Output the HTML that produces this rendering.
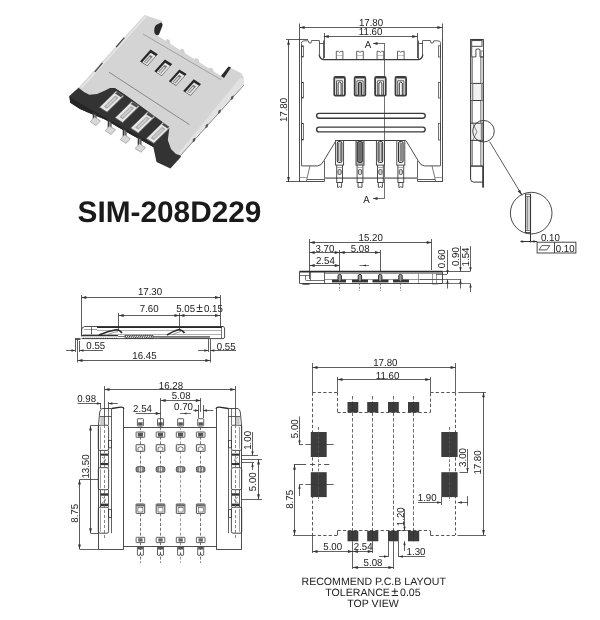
<!DOCTYPE html>
<html><head><meta charset="utf-8"><style>
html,body{margin:0;padding:0;background:#fff;}
svg{display:block;font-family:"Liberation Sans",sans-serif;text-rendering:geometricPrecision;will-change:transform;filter:blur(0.35px);}
</style></head><body>
<svg width="600" height="620" viewBox="0 0 600 620">
<polygon points="69.3,96.0 78.5,87.8 112.0,86.0 172.0,124.0 181.0,156.0 180.4,157.5 170.4,168.6 156.5,162.0 153.3,147.0 123.0,130.0 105.0,119.5 88.0,112.5 80.0,109.0 70.3,102.7" fill="#333" stroke="none" stroke-width="0"/>
<polygon points="69.3,96.0 73.0,99.0 88.0,108.0 153.0,144.0 153.3,147.0 123.0,130.0 105.0,119.5 88.0,112.5 80.0,109.0 70.3,102.7" fill="#262626" stroke="none" stroke-width="0"/>
<polygon points="92.7,112.0 96.5,114.3 96.5,119.8 92.7,118.8" fill="#3a3a3a" stroke="none" stroke-width="0"/>
<polygon points="94.1,114.5 95.5,115.3 95.5,119.3 94.1,118.8" fill="#9a9a9a" stroke="none" stroke-width="0"/>
<polygon points="90.2,121.8 96.1,125.6 100.4,120.8 94.5,117.0" fill="#d8d8d8" stroke="#8a8a8a" stroke-width="0.6"/>
<polygon points="107.7,119.1 111.5,121.4 111.5,128.7 107.7,127.7" fill="#3a3a3a" stroke="none" stroke-width="0"/>
<polygon points="109.1,121.6 110.5,122.4 110.5,128.2 109.1,127.7" fill="#9a9a9a" stroke="none" stroke-width="0"/>
<polygon points="105.2,130.7 111.1,134.5 115.4,129.7 109.5,125.9" fill="#d8d8d8" stroke="#8a8a8a" stroke-width="0.6"/>
<polygon points="122.7,127.8 126.5,130.1 126.5,137.6 122.7,136.6" fill="#3a3a3a" stroke="none" stroke-width="0"/>
<polygon points="124.1,130.3 125.5,131.1 125.5,137.1 124.1,136.6" fill="#9a9a9a" stroke="none" stroke-width="0"/>
<polygon points="120.2,139.6 126.1,143.4 130.4,138.6 124.5,134.8" fill="#d8d8d8" stroke="#8a8a8a" stroke-width="0.6"/>
<polygon points="137.7,136.2 141.5,138.5 141.5,146.5 137.7,145.5" fill="#3a3a3a" stroke="none" stroke-width="0"/>
<polygon points="139.1,138.7 140.5,139.5 140.5,146.0 139.1,145.5" fill="#9a9a9a" stroke="none" stroke-width="0"/>
<polygon points="135.2,148.5 141.1,152.3 145.4,147.5 139.5,143.7" fill="#d8d8d8" stroke="#8a8a8a" stroke-width="0.6"/>
<polygon points="99.5,107.3 107.1,112.1 123.7,95.9 116.1,91.1" fill="#e6e6e6" stroke="#6a6a6a" stroke-width="0.7"/>
<polygon points="103.8,106.7 107.1,108.8 118.6,97.7 115.3,95.6" fill="#a8a8a8" stroke="none" stroke-width="0"/>
<polygon points="105.8,106.2 107.3,107.2 116.6,98.2 115.1,97.2" fill="#cfcfcf" stroke="none" stroke-width="0"/>
<polygon points="115.1,93.6 120.9,97.2 122.7,95.4 117.0,91.8" fill="#4a4a4a" stroke="none" stroke-width="0"/>
<polygon points="115.1,117.7 122.7,122.5 139.3,106.3 131.7,101.5" fill="#e6e6e6" stroke="#6a6a6a" stroke-width="0.7"/>
<polygon points="119.4,117.1 122.7,119.2 134.2,108.1 130.9,106.0" fill="#a8a8a8" stroke="none" stroke-width="0"/>
<polygon points="121.4,116.6 122.9,117.6 132.2,108.6 130.7,107.6" fill="#cfcfcf" stroke="none" stroke-width="0"/>
<polygon points="130.7,104.0 136.5,107.6 138.3,105.8 132.6,102.2" fill="#4a4a4a" stroke="none" stroke-width="0"/>
<polygon points="130.7,128.1 138.3,132.9 154.9,116.7 147.3,111.9" fill="#e6e6e6" stroke="#6a6a6a" stroke-width="0.7"/>
<polygon points="135.0,127.5 138.3,129.6 149.8,118.5 146.5,116.4" fill="#a8a8a8" stroke="none" stroke-width="0"/>
<polygon points="137.0,127.0 138.5,128.0 147.8,119.0 146.3,118.0" fill="#cfcfcf" stroke="none" stroke-width="0"/>
<polygon points="146.3,114.4 152.1,118.0 153.9,116.2 148.2,112.6" fill="#4a4a4a" stroke="none" stroke-width="0"/>
<polygon points="146.3,138.5 153.9,143.3 170.5,127.1 162.9,122.3" fill="#e6e6e6" stroke="#6a6a6a" stroke-width="0.7"/>
<polygon points="150.6,137.9 153.9,140.0 165.4,128.9 162.1,126.8" fill="#a8a8a8" stroke="none" stroke-width="0"/>
<polygon points="152.6,137.4 154.1,138.4 163.4,129.4 161.9,128.4" fill="#cfcfcf" stroke="none" stroke-width="0"/>
<polygon points="161.9,124.8 167.7,128.4 169.5,126.6 163.8,123.0" fill="#4a4a4a" stroke="none" stroke-width="0"/>
<polygon points="144.6,15.0 162.5,21.0 158.0,36.0 221.0,76.0 229.0,67.0 241.0,73.0 244.0,78.0 244.0,85.0 180.5,155.5 176.0,154.0 171.0,149.0 167.8,140.0 169.5,127.0 116.0,88.0 110.0,88.0 104.0,91.0 97.0,94.0 89.3,94.7 84.0,92.0 78.5,87.8" fill="#d4d4d4" stroke="none" stroke-width="0"/>
<polygon points="240.0,78.0 244.0,78.0 244.0,85.0 180.5,155.5 178.5,153.0" fill="#e2e2e2" stroke="none" stroke-width="0"/>
<line x1="244.00" y1="85.00" x2="180.50" y2="155.50" stroke="#777" stroke-width="0.8"/>
<polygon points="231.1,96.7 233.6,95.2 233.1,98.7 230.6,100.2" fill="#555" stroke="none" stroke-width="0"/>
<polygon points="218.4,110.8 220.9,109.3 220.4,112.8 217.9,114.3" fill="#555" stroke="none" stroke-width="0"/>
<polygon points="205.7,124.9 208.2,123.4 207.7,126.9 205.2,128.4" fill="#555" stroke="none" stroke-width="0"/>
<polygon points="193.0,139.0 195.5,137.5 195.0,141.0 192.5,142.5" fill="#555" stroke="none" stroke-width="0"/>
<polyline points="81.5,87.6 146,16.2" stroke="#e6e6e6" stroke-width="1.6" fill="none"/>
<line x1="94.90" y1="71.80" x2="102.40" y2="62.90" stroke="#444" stroke-width="1.3"/>
<line x1="116.10" y1="47.20" x2="124.30" y2="37.60" stroke="#444" stroke-width="1.3"/>
<path d="M154.5,33 Q153.5,28 156,25 L161,22.5 Q163.5,23.5 162,27 L159,34.5 Q156.5,36.5 154.5,33 Z" fill="#2a2a2a"/>
<polygon points="221.0,76.0 228.5,66.5 231.0,67.5 224.0,78.0" fill="#2a2a2a" stroke="none" stroke-width="0"/>
<polygon points="165.5,43.0 166.5,39.0 169.5,40.0 170.5,44.0" fill="#cfcfcf" stroke="none" stroke-width="0"/>
<polygon points="179.9,52.5 180.9,48.5 183.9,49.5 184.9,53.5" fill="#cfcfcf" stroke="none" stroke-width="0"/>
<polygon points="194.3,62.0 195.3,58.0 198.3,59.0 199.3,63.0" fill="#cfcfcf" stroke="none" stroke-width="0"/>
<polygon points="208.7,71.5 209.7,67.5 212.7,68.5 213.7,72.5" fill="#cfcfcf" stroke="none" stroke-width="0"/>
<line x1="109.00" y1="72.20" x2="189.50" y2="124.70" stroke="#808080" stroke-width="0.9"/>
<line x1="142.80" y1="33.90" x2="221.00" y2="79.70" stroke="#9a9a9a" stroke-width="0.9"/>
<polygon points="140.0,61.4 147.3,66.0 157.8,54.2 150.5,49.6" fill="#262626" stroke="none" stroke-width="0"/>
<polygon points="142.2,62.3 147.3,65.5 155.8,56.0 150.7,52.8" fill="#e4e4e4" stroke="none" stroke-width="0"/>
<polygon points="143.9,61.9 146.6,63.6 152.8,56.7 150.1,55.0" fill="#7a7a7a" stroke="none" stroke-width="0"/>
<polygon points="144.8,62.2 146.0,63.0 150.8,57.6 149.6,56.9" fill="#d8d8d8" stroke="none" stroke-width="0"/>
<polygon points="154.4,71.3 161.7,75.9 172.2,64.1 164.9,59.5" fill="#262626" stroke="none" stroke-width="0"/>
<polygon points="156.6,72.2 161.7,75.4 170.2,65.9 165.1,62.7" fill="#e4e4e4" stroke="none" stroke-width="0"/>
<polygon points="158.3,71.8 161.0,73.5 167.2,66.6 164.5,64.9" fill="#7a7a7a" stroke="none" stroke-width="0"/>
<polygon points="159.2,72.1 160.4,72.9 165.2,67.5 164.0,66.8" fill="#d8d8d8" stroke="none" stroke-width="0"/>
<polygon points="168.8,81.2 176.1,85.8 186.6,74.0 179.3,69.4" fill="#262626" stroke="none" stroke-width="0"/>
<polygon points="171.0,82.1 176.1,85.3 184.6,75.8 179.5,72.6" fill="#e4e4e4" stroke="none" stroke-width="0"/>
<polygon points="172.7,81.7 175.4,83.4 181.6,76.5 178.9,74.8" fill="#7a7a7a" stroke="none" stroke-width="0"/>
<polygon points="173.6,82.0 174.8,82.8 179.6,77.4 178.4,76.7" fill="#d8d8d8" stroke="none" stroke-width="0"/>
<polygon points="183.2,91.1 190.5,95.7 201.0,83.9 193.7,79.3" fill="#262626" stroke="none" stroke-width="0"/>
<polygon points="185.4,92.0 190.5,95.2 199.0,85.7 193.9,82.5" fill="#e4e4e4" stroke="none" stroke-width="0"/>
<polygon points="187.1,91.6 189.8,93.3 196.0,86.4 193.3,84.7" fill="#7a7a7a" stroke="none" stroke-width="0"/>
<polygon points="188.0,91.9 189.2,92.7 194.0,87.3 192.8,86.6" fill="#d8d8d8" stroke="none" stroke-width="0"/>
<line x1="299.60" y1="27.50" x2="442.40" y2="27.50" stroke="#333" stroke-width="0.8"/>
<polygon points="299.60,27.50 304.60,26.10 304.60,28.90" fill="#333"/>
<polygon points="442.40,27.50 437.40,26.10 437.40,28.90" fill="#333"/>
<text x="0.00" y="0.00" font-size="10.1" text-anchor="middle" fill="#222" font-weight="normal" transform="translate(371.00 25.50) scale(0.96 1)">17.80</text>
<line x1="323.75" y1="36.50" x2="417.25" y2="36.50" stroke="#333" stroke-width="0.8"/>
<polygon points="323.75,36.50 328.75,35.10 328.75,37.90" fill="#333"/>
<polygon points="417.25,36.50 412.25,35.10 412.25,37.90" fill="#333"/>
<text x="0.00" y="0.00" font-size="10.1" text-anchor="middle" fill="#222" font-weight="normal" transform="translate(370.60 34.90) scale(0.96 1)">11.60</text>
<line x1="299.50" y1="23.50" x2="299.50" y2="40.00" stroke="#333" stroke-width="0.8"/>
<line x1="442.50" y1="23.50" x2="442.50" y2="40.00" stroke="#333" stroke-width="0.8"/>
<line x1="324.50" y1="33.00" x2="324.50" y2="58.00" stroke="#333" stroke-width="0.8"/>
<line x1="417.50" y1="33.00" x2="417.50" y2="58.00" stroke="#333" stroke-width="0.8"/>
<line x1="288.50" y1="39.70" x2="288.50" y2="182.00" stroke="#333" stroke-width="0.8"/>
<polygon points="288.50,39.70 287.10,44.70 289.90,44.70" fill="#333"/>
<polygon points="288.50,182.00 287.10,177.00 289.90,177.00" fill="#333"/>
<line x1="286.00" y1="39.50" x2="308.00" y2="39.50" stroke="#333" stroke-width="0.8"/>
<line x1="286.00" y1="181.50" x2="300.00" y2="181.50" stroke="#333" stroke-width="0.8"/>
<text x="0.00" y="0.00" font-size="10.1" text-anchor="middle" fill="#222" font-weight="normal" transform="translate(287.00 110.00) rotate(-90) scale(0.96 1)">17.80</text>
<line x1="384.50" y1="43.30" x2="384.50" y2="198.30" stroke="#333" stroke-width="0.7"/>
<line x1="373.00" y1="43.50" x2="384.70" y2="43.50" stroke="#333" stroke-width="0.7"/>
<polygon points="373.00,43.50 377.50,42.10 377.50,44.90" fill="#333"/>
<text x="0.00" y="0.00" font-size="10.1" text-anchor="middle" fill="#222" font-weight="normal" transform="translate(368.00 47.80) scale(0.96 1)">A</text>
<line x1="373.00" y1="198.50" x2="384.70" y2="198.50" stroke="#333" stroke-width="0.7"/>
<polygon points="373.00,198.50 377.50,197.10 377.50,199.90" fill="#333"/>
<text x="0.00" y="0.00" font-size="10.1" text-anchor="middle" fill="#222" font-weight="normal" transform="translate(366.50 202.80) scale(0.96 1)">A</text>
<line x1="309.70" y1="242.50" x2="431.70" y2="242.50" stroke="#333" stroke-width="0.8"/>
<polygon points="309.70,242.50 314.70,241.10 314.70,243.90" fill="#333"/>
<polygon points="431.70,242.50 426.70,241.10 426.70,243.90" fill="#333"/>
<text x="0.00" y="0.00" font-size="10.1" text-anchor="middle" fill="#222" font-weight="normal" transform="translate(370.70 241.10) scale(0.96 1)">15.20</text>
<line x1="309.50" y1="239.00" x2="309.50" y2="279.00" stroke="#333" stroke-width="0.8"/>
<line x1="431.50" y1="239.00" x2="431.50" y2="270.00" stroke="#333" stroke-width="0.8"/>
<line x1="309.70" y1="252.50" x2="380.00" y2="252.50" stroke="#333" stroke-width="0.8"/>
<polygon points="309.70,252.50 314.70,251.10 314.70,253.90" fill="#333"/>
<polygon points="339.70,252.50 334.70,251.10 334.70,253.90" fill="#333"/>
<polygon points="339.70,252.50 344.70,251.10 344.70,253.90" fill="#333"/>
<polygon points="380.00,252.50 375.00,251.10 375.00,253.90" fill="#333"/>
<text x="0.00" y="0.00" font-size="10.1" text-anchor="middle" fill="#222" font-weight="normal" transform="translate(324.90 252.00) scale(0.96 1)">3.70</text>
<text x="0.00" y="0.00" font-size="10.1" text-anchor="middle" fill="#222" font-weight="normal" transform="translate(360.20 252.00) scale(0.96 1)">5.08</text>
<line x1="309.70" y1="265.50" x2="339.70" y2="265.50" stroke="#333" stroke-width="0.8"/>
<polygon points="309.70,265.50 314.70,264.10 314.70,266.90" fill="#333"/>
<polygon points="339.70,265.50 334.70,264.10 334.70,266.90" fill="#333"/>
<text x="0.00" y="0.00" font-size="10.1" text-anchor="middle" fill="#222" font-weight="normal" transform="translate(325.40 264.10) scale(0.96 1)">2.54</text>
<line x1="339.50" y1="250.00" x2="339.50" y2="272.00" stroke="#333" stroke-width="0.8"/>
<line x1="380.50" y1="250.00" x2="380.50" y2="272.00" stroke="#333" stroke-width="0.8"/>
<line x1="81.30" y1="297.50" x2="220.00" y2="297.50" stroke="#333" stroke-width="0.8"/>
<polygon points="81.30,297.50 86.30,296.10 86.30,298.90" fill="#333"/>
<polygon points="220.00,297.50 215.00,296.10 215.00,298.90" fill="#333"/>
<text x="0.00" y="0.00" font-size="10.1" text-anchor="middle" fill="#222" font-weight="normal" transform="translate(150.00 295.30) scale(0.96 1)">17.30</text>
<line x1="81.50" y1="295.00" x2="81.50" y2="336.00" stroke="#333" stroke-width="0.8"/>
<line x1="220.50" y1="295.00" x2="220.50" y2="327.00" stroke="#333" stroke-width="0.8"/>
<line x1="118.70" y1="315.50" x2="220.00" y2="315.50" stroke="#333" stroke-width="0.8"/>
<polygon points="118.70,315.50 123.70,314.10 123.70,316.90" fill="#333"/>
<polygon points="179.50,315.50 174.50,314.10 174.50,316.90" fill="#333"/>
<polygon points="179.50,315.50 184.50,314.10 184.50,316.90" fill="#333"/>
<polygon points="220.00,315.50 215.00,314.10 215.00,316.90" fill="#333"/>
<line x1="118.50" y1="313.00" x2="118.50" y2="330.00" stroke="#333" stroke-width="0.8"/>
<line x1="179.50" y1="313.00" x2="179.50" y2="330.00" stroke="#333" stroke-width="0.8"/>
<text x="0.00" y="0.00" font-size="10.1" text-anchor="middle" fill="#222" font-weight="normal" transform="translate(149.20 312.00) scale(0.96 1)">7.60</text>
<text x="0.00" y="0.00" font-size="10.1" text-anchor="middle" fill="#222" font-weight="normal" transform="translate(199.50 312.00) scale(0.96 1)">5.05<tspan dx="1.2" font-size="12.6">±</tspan><tspan dx="1.2">0.15</tspan></text>
<text x="0.00" y="0.00" font-size="10.1" text-anchor="middle" fill="#222" font-weight="normal" transform="translate(95.80 348.60) scale(0.96 1)">0.55</text>
<text x="0.00" y="0.00" font-size="10.1" text-anchor="middle" fill="#222" font-weight="normal" transform="translate(226.20 349.50) scale(0.96 1)">0.55</text>
<line x1="77.50" y1="360.50" x2="210.30" y2="360.50" stroke="#333" stroke-width="0.8"/>
<polygon points="77.50,360.50 82.50,359.10 82.50,361.90" fill="#333"/>
<polygon points="210.30,360.50 205.30,359.10 205.30,361.90" fill="#333"/>
<text x="0.00" y="0.00" font-size="10.1" text-anchor="middle" fill="#222" font-weight="normal" transform="translate(144.40 358.60) scale(0.96 1)">16.45</text>
<line x1="104.50" y1="389.50" x2="235.30" y2="389.50" stroke="#333" stroke-width="0.8"/>
<polygon points="104.50,389.50 109.50,388.10 109.50,390.90" fill="#333"/>
<polygon points="235.30,389.50 230.30,388.10 230.30,390.90" fill="#333"/>
<text x="0.00" y="0.00" font-size="10.1" text-anchor="middle" fill="#222" font-weight="normal" transform="translate(170.90 388.60) scale(0.96 1)">16.28</text>
<text x="0.00" y="0.00" font-size="10.1" text-anchor="middle" fill="#222" font-weight="normal" transform="translate(86.60 402.00) scale(0.96 1)">0.98</text>
<text x="0.00" y="0.00" font-size="10.1" text-anchor="middle" fill="#222" font-weight="normal" transform="translate(181.10 399.00) scale(0.96 1)">5.08</text>
<text x="0.00" y="0.00" font-size="10.1" text-anchor="middle" fill="#222" font-weight="normal" transform="translate(142.50 412.00) scale(0.96 1)">2.54</text>
<text x="0.00" y="0.00" font-size="10.1" text-anchor="middle" fill="#222" font-weight="normal" transform="translate(183.50 409.50) scale(0.96 1)">0.70</text>
<line x1="312.50" y1="367.50" x2="455.60" y2="367.50" stroke="#333" stroke-width="0.8"/>
<polygon points="312.50,367.50 317.50,366.10 317.50,368.90" fill="#333"/>
<polygon points="455.60,367.50 450.60,366.10 450.60,368.90" fill="#333"/>
<text x="0.00" y="0.00" font-size="10.1" text-anchor="middle" fill="#222" font-weight="normal" transform="translate(385.30 365.80) scale(0.96 1)">17.80</text>
<line x1="337.50" y1="379.50" x2="430.30" y2="379.50" stroke="#333" stroke-width="0.8"/>
<polygon points="337.50,379.50 342.50,378.10 342.50,380.90" fill="#333"/>
<polygon points="430.30,379.50 425.30,378.10 425.30,380.90" fill="#333"/>
<text x="0.00" y="0.00" font-size="10.1" text-anchor="middle" fill="#222" font-weight="normal" transform="translate(387.50 379.20) scale(0.96 1)">11.60</text>
<text x="373.70" y="585.30" font-size="10.6" text-anchor="middle" fill="#222" font-weight="normal">RECOMMEND P.C.B LAYOUT</text>
<text x="373.00" y="595.50" font-size="10.6" text-anchor="middle" fill="#222" font-weight="normal">TOLERANCE<tspan dx="1.4" font-size="13">±</tspan><tspan dx="1.6">0.05</tspan></text>
<text x="373.00" y="606.50" font-size="10.6" text-anchor="middle" fill="#222" font-weight="normal">TOP VIEW</text>
<text x="169.50" y="222.00" font-size="29.8" text-anchor="middle" fill="#1a1a1a" font-weight="bold">SIM-208D229</text>
<line x1="299.50" y1="39.20" x2="299.50" y2="182.00" stroke="#3a3a3a" stroke-width="0.9"/>
<line x1="442.50" y1="39.20" x2="442.50" y2="182.00" stroke="#3a3a3a" stroke-width="0.9"/>
<line x1="301.50" y1="43.30" x2="301.50" y2="165.90" stroke="#3a3a3a" stroke-width="0.8"/>
<line x1="440.50" y1="43.30" x2="440.50" y2="165.90" stroke="#3a3a3a" stroke-width="0.8"/>
<rect x="301.70" y="45.80" width="1.70" height="11.20" rx="0" fill="none" stroke="#3a3a3a" stroke-width="0.7"/>
<rect x="438.60" y="45.80" width="1.70" height="11.20" rx="0" fill="none" stroke="#3a3a3a" stroke-width="0.7"/>
<rect x="301.70" y="82.50" width="1.70" height="15.50" rx="0" fill="none" stroke="#3a3a3a" stroke-width="0.7"/>
<rect x="438.60" y="82.50" width="1.70" height="15.50" rx="0" fill="none" stroke="#3a3a3a" stroke-width="0.7"/>
<rect x="301.70" y="123.30" width="1.70" height="16.70" rx="0" fill="none" stroke="#3a3a3a" stroke-width="0.7"/>
<rect x="438.60" y="123.30" width="1.70" height="16.70" rx="0" fill="none" stroke="#3a3a3a" stroke-width="0.7"/>
<path d="M301.25,43.3 Q301.5,40.8 304.2,40.8 L308.3,40.8 L309,43 L311,43 L311.5,40.5 L319.2,40.5" fill="none" stroke="#3a3a3a" stroke-width="0.8" />
<line x1="319.50" y1="40.50" x2="319.50" y2="54.20" stroke="#3a3a3a" stroke-width="0.8"/>
<line x1="323.50" y1="40.50" x2="323.50" y2="59.60" stroke="#3a3a3a" stroke-width="0.8"/>
<line x1="319.20" y1="43.50" x2="323.75" y2="43.50" stroke="#3a3a3a" stroke-width="0.8"/>
<path d="M440.75,43.3 Q440.5,40.8 437.8,40.8 L433.7,40.8 L433.0,43 L431.0,43 L430.5,40.5 L422.8,40.5" fill="none" stroke="#3a3a3a" stroke-width="0.8" />
<line x1="422.50" y1="40.50" x2="422.50" y2="54.20" stroke="#3a3a3a" stroke-width="0.8"/>
<line x1="418.50" y1="40.50" x2="418.50" y2="59.60" stroke="#3a3a3a" stroke-width="0.8"/>
<line x1="422.80" y1="43.50" x2="418.25" y2="43.50" stroke="#3a3a3a" stroke-width="0.8"/>
<path d="M319.2,54.2 Q319.5,59.6 324.5,59.6 L417.5,59.6 Q422.5,59.6 422.8,54.2" fill="none" stroke="#3a3a3a" stroke-width="1.3" />
<path d="M336.3,59.6 L336.3,51.3 L338.40000000000003,51.3 Q339.6,53.5 340.8,51.3 L342.90000000000003,51.3 L342.90000000000003,59.6" fill="none" stroke="#3a3a3a" stroke-width="0.8" />
<line x1="336.30" y1="55.50" x2="342.90" y2="55.50" stroke="#888" stroke-width="0.5"/>
<path d="M356.7,59.6 L356.7,51.3 L358.8,51.3 Q360.0,53.5 361.2,51.3 L363.3,51.3 L363.3,59.6" fill="none" stroke="#3a3a3a" stroke-width="0.8" />
<line x1="356.70" y1="55.50" x2="363.30" y2="55.50" stroke="#888" stroke-width="0.5"/>
<path d="M377.09999999999997,59.6 L377.09999999999997,51.3 L379.2,51.3 Q380.4,53.5 381.59999999999997,51.3 L383.7,51.3 L383.7,59.6" fill="none" stroke="#3a3a3a" stroke-width="0.8" />
<line x1="377.10" y1="55.50" x2="383.70" y2="55.50" stroke="#888" stroke-width="0.5"/>
<path d="M397.5,59.6 L397.5,51.3 L399.6,51.3 Q400.8,53.5 402.0,51.3 L404.1,51.3 L404.1,59.6" fill="none" stroke="#3a3a3a" stroke-width="0.8" />
<line x1="397.50" y1="55.50" x2="404.10" y2="55.50" stroke="#888" stroke-width="0.5"/>
<rect x="334.30" y="77.00" width="10.60" height="18.60" rx="1.2" fill="#fff" stroke="#3c3c3c" stroke-width="1.8"/>
<rect x="335.40" y="78.00" width="8.40" height="1.20" fill="#999"/>
<path d="M336.5,95.6 L336.5,80.8 L342.70000000000005,80.8 L342.70000000000005,95.6" fill="none" stroke="#444" stroke-width="0.9" />
<path d="M338.1,95.6 L338.1,83 Q339.6,81 341.1,83 L341.1,95.6" fill="none" stroke="#333" stroke-width="1.0" />
<rect x="354.70" y="77.00" width="10.60" height="18.60" rx="1.2" fill="#fff" stroke="#3c3c3c" stroke-width="1.8"/>
<rect x="355.80" y="78.00" width="8.40" height="1.20" fill="#999"/>
<rect x="358.40" y="82.00" width="3.20" height="13.60" fill="#9a9a9a"/>
<path d="M356.9,95.6 L356.9,80.8 L363.1,80.8 L363.1,95.6" fill="none" stroke="#444" stroke-width="0.9" />
<path d="M358.5,95.6 L358.5,83 Q360.0,81 361.5,83 L361.5,95.6" fill="none" stroke="#333" stroke-width="1.0" />
<rect x="375.10" y="77.00" width="10.60" height="18.60" rx="1.2" fill="#fff" stroke="#3c3c3c" stroke-width="1.8"/>
<rect x="376.20" y="78.00" width="8.40" height="1.20" fill="#999"/>
<path d="M377.29999999999995,95.6 L377.29999999999995,80.8 L383.5,80.8 L383.5,95.6" fill="none" stroke="#444" stroke-width="0.9" />
<path d="M378.9,95.6 L378.9,83 Q380.4,81 381.9,83 L381.9,95.6" fill="none" stroke="#333" stroke-width="1.0" />
<rect x="395.50" y="77.00" width="10.60" height="18.60" rx="1.2" fill="#fff" stroke="#3c3c3c" stroke-width="1.8"/>
<rect x="396.60" y="78.00" width="8.40" height="1.20" fill="#999"/>
<path d="M397.7,95.6 L397.7,80.8 L403.90000000000003,80.8 L403.90000000000003,95.6" fill="none" stroke="#444" stroke-width="0.9" />
<path d="M399.3,95.6 L399.3,83 Q400.8,81 402.3,83 L402.3,95.6" fill="none" stroke="#333" stroke-width="1.0" />
<rect x="316.60" y="113.40" width="108.60" height="4.80" rx="2.4" fill="none" stroke="#3a3a3a" stroke-width="1.4"/>
<rect x="316.60" y="127.10" width="108.60" height="4.80" rx="2.4" fill="none" stroke="#3a3a3a" stroke-width="1.4"/>
<line x1="336.40" y1="140.50" x2="405.60" y2="140.50" stroke="#3a3a3a" stroke-width="1.0"/>
<path d="M336.4,140.5 Q335.5,140.8 335.3,141.8 L323.8,160.7 Q321.5,165.9 317.5,165.9 L301.7,165.9" fill="none" stroke="#3a3a3a" stroke-width="0.9" />
<path d="M405.6,140.5 Q406.5,140.8 406.7,141.8 L418.2,160.7 Q420.5,165.9 424.5,165.9 L440.3,165.9" fill="none" stroke="#3a3a3a" stroke-width="0.9" />
<line x1="324.50" y1="160.70" x2="324.50" y2="181.50" stroke="#3a3a3a" stroke-width="0.8"/>
<line x1="417.50" y1="160.70" x2="417.50" y2="181.50" stroke="#3a3a3a" stroke-width="0.8"/>
<line x1="299.60" y1="181.50" x2="324.30" y2="181.50" stroke="#3a3a3a" stroke-width="0.9"/>
<line x1="417.70" y1="181.50" x2="442.40" y2="181.50" stroke="#3a3a3a" stroke-width="0.9"/>
<line x1="324.30" y1="178.20" x2="417.70" y2="178.20" stroke="#888" stroke-width="1.8"/>
<line x1="310.00" y1="165.90" x2="306.30" y2="181.30" stroke="#555" stroke-width="0.8"/>
<line x1="432.00" y1="165.90" x2="435.70" y2="181.30" stroke="#555" stroke-width="0.8"/>
<line x1="307.00" y1="179.50" x2="324.30" y2="179.50" stroke="#3a3a3a" stroke-width="0.8"/>
<line x1="417.70" y1="179.50" x2="435.00" y2="179.50" stroke="#3a3a3a" stroke-width="0.8"/>
<line x1="299.60" y1="177.50" x2="307.00" y2="177.50" stroke="#888" stroke-width="0.8"/>
<line x1="435.00" y1="177.50" x2="442.40" y2="177.50" stroke="#888" stroke-width="0.8"/>
<rect x="335.60" y="140.50" width="8.00" height="24.60" rx="0" fill="#fff" stroke="#3a3a3a" stroke-width="0.9"/>
<rect x="337.30" y="141.50" width="4.60" height="21.00" rx="1.5" fill="#d0d0d0" stroke="#2e2e2e" stroke-width="1.0"/>
<line x1="338.50" y1="143.00" x2="338.50" y2="161.00" stroke="#555" stroke-width="0.6"/>
<line x1="340.50" y1="143.00" x2="340.50" y2="161.00" stroke="#555" stroke-width="0.6"/>
<path d="M336.70000000000005,165.1 L336.70000000000005,182.5 L337.6,183.5 L337.6,187.3 L338.8,187.3 Q339.6,185.8 340.40000000000003,187.3 L341.6,187.3 L341.6,183.5 L342.5,182.5 L342.5,165.1" fill="none" stroke="#3a3a3a" stroke-width="0.9" />
<line x1="336.70" y1="167.50" x2="342.50" y2="167.50" stroke="#777" stroke-width="0.6"/>
<rect x="338.00" y="169.60" width="3.20" height="4.90" rx="1.2" fill="#ddd" stroke="#444" stroke-width="0.9"/>
<line x1="336.70" y1="182.50" x2="342.50" y2="182.50" stroke="#444" stroke-width="1.0"/>
<rect x="356.00" y="140.50" width="8.00" height="24.60" rx="0" fill="#b5b5b5" stroke="#3a3a3a" stroke-width="0.9"/>
<rect x="357.70" y="141.50" width="4.60" height="21.00" rx="1.5" fill="#888" stroke="#2e2e2e" stroke-width="1.0"/>
<line x1="359.50" y1="143.00" x2="359.50" y2="161.00" stroke="#555" stroke-width="0.6"/>
<line x1="360.50" y1="143.00" x2="360.50" y2="161.00" stroke="#555" stroke-width="0.6"/>
<path d="M357.1,165.1 L357.1,182.5 L358.0,183.5 L358.0,187.3 L359.2,187.3 Q360.0,185.8 360.8,187.3 L362.0,187.3 L362.0,183.5 L362.9,182.5 L362.9,165.1" fill="none" stroke="#3a3a3a" stroke-width="0.9" />
<line x1="357.10" y1="167.50" x2="362.90" y2="167.50" stroke="#777" stroke-width="0.6"/>
<rect x="358.40" y="169.60" width="3.20" height="4.90" rx="1.2" fill="#ddd" stroke="#444" stroke-width="0.9"/>
<line x1="357.10" y1="182.50" x2="362.90" y2="182.50" stroke="#444" stroke-width="1.0"/>
<rect x="376.40" y="140.50" width="8.00" height="24.60" rx="0" fill="#fff" stroke="#3a3a3a" stroke-width="0.9"/>
<rect x="378.10" y="141.50" width="4.60" height="21.00" rx="1.5" fill="#d0d0d0" stroke="#2e2e2e" stroke-width="1.0"/>
<line x1="379.50" y1="143.00" x2="379.50" y2="161.00" stroke="#555" stroke-width="0.6"/>
<line x1="381.50" y1="143.00" x2="381.50" y2="161.00" stroke="#555" stroke-width="0.6"/>
<path d="M377.5,165.1 L377.5,182.5 L378.4,183.5 L378.4,187.3 L379.59999999999997,187.3 Q380.4,185.8 381.2,187.3 L382.4,187.3 L382.4,183.5 L383.29999999999995,182.5 L383.29999999999995,165.1" fill="none" stroke="#3a3a3a" stroke-width="0.9" />
<line x1="377.50" y1="167.50" x2="383.30" y2="167.50" stroke="#777" stroke-width="0.6"/>
<rect x="378.80" y="169.60" width="3.20" height="4.90" rx="1.2" fill="#ddd" stroke="#444" stroke-width="0.9"/>
<line x1="377.50" y1="182.50" x2="383.30" y2="182.50" stroke="#444" stroke-width="1.0"/>
<rect x="396.80" y="140.50" width="8.00" height="24.60" rx="0" fill="#fff" stroke="#3a3a3a" stroke-width="0.9"/>
<rect x="398.50" y="141.50" width="4.60" height="21.00" rx="1.5" fill="#d0d0d0" stroke="#2e2e2e" stroke-width="1.0"/>
<line x1="400.50" y1="143.00" x2="400.50" y2="161.00" stroke="#555" stroke-width="0.6"/>
<line x1="401.50" y1="143.00" x2="401.50" y2="161.00" stroke="#555" stroke-width="0.6"/>
<path d="M397.90000000000003,165.1 L397.90000000000003,182.5 L398.8,183.5 L398.8,187.3 L400.0,187.3 Q400.8,185.8 401.6,187.3 L402.8,187.3 L402.8,183.5 L403.7,182.5 L403.7,165.1" fill="none" stroke="#3a3a3a" stroke-width="0.9" />
<line x1="397.90" y1="167.50" x2="403.70" y2="167.50" stroke="#777" stroke-width="0.6"/>
<rect x="399.20" y="169.60" width="3.20" height="4.90" rx="1.2" fill="#ddd" stroke="#444" stroke-width="0.9"/>
<line x1="397.90" y1="182.50" x2="403.70" y2="182.50" stroke="#444" stroke-width="1.0"/>
<rect x="470.60" y="57.00" width="2.00" height="109.00" fill="#b0b0b0"/>
<rect x="480.60" y="57.00" width="2.20" height="109.00" fill="#c8c8c8"/>
<line x1="470.50" y1="39.20" x2="470.50" y2="179.00" stroke="#3a3a3a" stroke-width="0.9"/>
<line x1="483.50" y1="39.20" x2="483.50" y2="187.60" stroke="#3a3a3a" stroke-width="0.9"/>
<line x1="472.50" y1="57.00" x2="472.50" y2="166.00" stroke="#666" stroke-width="0.6"/>
<line x1="480.50" y1="57.00" x2="480.50" y2="166.00" stroke="#666" stroke-width="0.6"/>
<line x1="470.50" y1="39.60" x2="483.00" y2="39.60" stroke="#3a3a3a" stroke-width="1.3"/>
<rect x="471.70" y="40.60" width="10.30" height="5.70" rx="0" fill="none" stroke="#3a3a3a" stroke-width="0.9"/>
<path d="M471.7,46.3 L471.7,56.9 L475.9,56.9 L475.9,49.5 Q478,48.3 480,49.5 L480,56.9 L483,56.9" fill="none" stroke="#3a3a3a" stroke-width="0.9" />
<rect x="481.00" y="51.00" width="2.40" height="5.90" rx="0" fill="none" stroke="#3a3a3a" stroke-width="0.6"/>
<rect x="470.60" y="83.40" width="12.50" height="17.10" rx="0.8" fill="#f2f2f2" stroke="#3a3a3a" stroke-width="1.0"/>
<line x1="472.60" y1="83.40" x2="472.60" y2="100.50" stroke="#888" stroke-width="1.4"/>
<line x1="481.50" y1="83.40" x2="481.50" y2="100.50" stroke="#999" stroke-width="1.2"/>
<rect x="470.60" y="123.20" width="12.40" height="17.20" rx="0" fill="#f0f0f0" stroke="#3a3a3a" stroke-width="1.0"/>
<line x1="472.60" y1="123.20" x2="477.00" y2="131.80" stroke="#555" stroke-width="0.7"/>
<line x1="477.00" y1="131.80" x2="472.60" y2="140.40" stroke="#555" stroke-width="0.7"/>
<line x1="481.50" y1="123.20" x2="481.50" y2="140.40" stroke="#888" stroke-width="1.5"/>
<path d="M470.6,166.1 L470.6,179 Q470.6,182.1 473.7,182.1 L483,182.1" fill="none" stroke="#3a3a3a" stroke-width="1.0" />
<line x1="470.60" y1="166.10" x2="483.00" y2="166.10" stroke="#3a3a3a" stroke-width="1.4"/>
<line x1="483.00" y1="166.00" x2="483.00" y2="187.60" stroke="#3a3a3a" stroke-width="1.6"/>
<circle cx="483.5" cy="131.2" r="10.8" fill="none" stroke="#333" stroke-width="0.9"/>
<line x1="489.60" y1="141.60" x2="522.10" y2="195.30" stroke="#333" stroke-width="0.8"/>
<polygon points="522.1,195.3 517.6,191.2 520.1,189.8" fill="#333"/>
<circle cx="531.2" cy="213.1" r="20.8" fill="none" stroke="#333" stroke-width="0.9"/>
<rect x="525.50" y="196.50" width="5.10" height="33.50" fill="#fff"/>
<rect x="525.80" y="197.00" width="1.80" height="32.50" fill="#bdbdbd"/>
<rect x="527.80" y="197.00" width="2.60" height="32.50" fill="#d4d4d4"/>
<rect x="525.50" y="194.20" width="5.10" height="38.40" rx="0" fill="none" stroke="#3a3a3a" stroke-width="0.9"/>
<line x1="525.50" y1="196.50" x2="530.60" y2="196.50" stroke="#3a3a3a" stroke-width="0.7"/>
<line x1="525.50" y1="230.50" x2="530.60" y2="230.50" stroke="#3a3a3a" stroke-width="0.7"/>
<line x1="527.50" y1="196.50" x2="527.50" y2="230.20" stroke="#666" stroke-width="0.6"/>
<line x1="530.50" y1="194.00" x2="530.50" y2="242.50" stroke="#333" stroke-width="1.0"/>
<line x1="520.40" y1="241.50" x2="537.20" y2="241.50" stroke="#333" stroke-width="1.0"/>
<polygon points="525.50,241.50 521.50,240.30 521.50,242.70" fill="#333"/>
<polygon points="530.60,241.50 534.60,240.30 534.60,242.70" fill="#333"/>
<text x="0.00" y="0.00" font-size="10.1" text-anchor="middle" fill="#222" font-weight="normal" transform="translate(550.40 240.80) scale(0.96 1)">0.10</text>
<rect x="537.10" y="242.20" width="38.80" height="10.80" rx="0" fill="none" stroke="#333" stroke-width="0.9"/>
<line x1="554.50" y1="242.20" x2="554.50" y2="253.00" stroke="#333" stroke-width="0.9"/>
<polygon points="539,249.9 541.9,245.6 549.8,245.6 546.9,249.9" fill="none" stroke="#333" stroke-width="0.8"/>
<text x="0.00" y="0.00" font-size="10.1" text-anchor="middle" fill="#222" font-weight="normal" transform="translate(565.20 251.70) scale(0.96 1)">0.10</text>
<line x1="299.50" y1="271.60" x2="442.50" y2="271.60" stroke="#2a2a2a" stroke-width="1.6"/>
<line x1="442.50" y1="271.50" x2="470.30" y2="271.50" stroke="#3a3a3a" stroke-width="0.8"/>
<line x1="436.00" y1="274.50" x2="447.00" y2="274.50" stroke="#3a3a3a" stroke-width="0.7"/>
<line x1="420.00" y1="279.50" x2="461.30" y2="279.50" stroke="#3a3a3a" stroke-width="0.7"/>
<line x1="436.00" y1="283.50" x2="470.30" y2="283.50" stroke="#3a3a3a" stroke-width="0.7"/>
<line x1="299.50" y1="271.60" x2="299.50" y2="283.30" stroke="#3a3a3a" stroke-width="0.9"/>
<line x1="299.50" y1="283.50" x2="442.00" y2="283.50" stroke="#3a3a3a" stroke-width="0.9"/>
<line x1="442.50" y1="271.60" x2="442.50" y2="283.20" stroke="#3a3a3a" stroke-width="0.9"/>
<line x1="299.50" y1="275.50" x2="310.00" y2="275.50" stroke="#3a3a3a" stroke-width="0.7"/>
<path d="M305.5,275 L305.5,279.5 Q305.5,280.5 307,280.5 L324.5,280.5" fill="none" stroke="#3a3a3a" stroke-width="0.7" />
<line x1="324.50" y1="271.60" x2="324.50" y2="283.20" stroke="#3a3a3a" stroke-width="0.8"/>
<line x1="310.50" y1="271.60" x2="310.50" y2="280.50" stroke="#3a3a3a" stroke-width="0.7"/>
<line x1="324.50" y1="273.50" x2="442.00" y2="273.50" stroke="#555" stroke-width="0.6"/>
<line x1="324.50" y1="279.50" x2="442.00" y2="279.50" stroke="#555" stroke-width="0.6"/>
<rect x="302.50" y="283.30" width="7.00" height="1.40" fill="#333"/>
<rect x="332.00" y="279.60" width="14.00" height="2.80" fill="#333"/>
<rect x="352.00" y="279.60" width="16.00" height="2.80" fill="#333"/>
<rect x="372.50" y="279.60" width="16.00" height="2.80" fill="#333"/>
<rect x="393.00" y="279.60" width="16.00" height="2.80" fill="#333"/>
<rect x="338.00" y="274.40" width="3.40" height="7.00" rx="1.6" fill="#9a9a9a" stroke="#2a2a2a" stroke-width="1.0"/>
<line x1="339.50" y1="283.30" x2="339.50" y2="291.00" stroke="#555" stroke-width="0.7" stroke-dasharray="2,1.5"/>
<rect x="358.20" y="274.40" width="3.40" height="7.00" rx="1.6" fill="#9a9a9a" stroke="#2a2a2a" stroke-width="1.0"/>
<line x1="359.50" y1="283.30" x2="359.50" y2="291.00" stroke="#555" stroke-width="0.7" stroke-dasharray="2,1.5"/>
<rect x="378.50" y="274.40" width="3.40" height="7.00" rx="1.6" fill="#9a9a9a" stroke="#2a2a2a" stroke-width="1.0"/>
<line x1="380.50" y1="283.30" x2="380.50" y2="291.00" stroke="#555" stroke-width="0.7" stroke-dasharray="2,1.5"/>
<rect x="398.80" y="274.40" width="3.40" height="7.00" rx="1.6" fill="#9a9a9a" stroke="#2a2a2a" stroke-width="1.0"/>
<line x1="400.50" y1="283.30" x2="400.50" y2="291.00" stroke="#555" stroke-width="0.7" stroke-dasharray="2,1.5"/>
<line x1="418.50" y1="273.50" x2="418.50" y2="283.20" stroke="#555" stroke-width="0.6"/>
<line x1="432.50" y1="273.50" x2="432.50" y2="283.20" stroke="#555" stroke-width="0.6"/>
<line x1="436.50" y1="273.50" x2="436.50" y2="283.20" stroke="#555" stroke-width="0.6"/>
<rect x="432.00" y="283.00" width="6.00" height="1.30" fill="#444"/>
<line x1="447.50" y1="250.00" x2="447.50" y2="274.00" stroke="#3a3a3a" stroke-width="0.8"/>
<polygon points="447.50,274.00 446.30,270.00 448.70,270.00" fill="#333"/>
<line x1="447.50" y1="279.50" x2="447.50" y2="288.50" stroke="#3a3a3a" stroke-width="0.8"/>
<polygon points="447.50,279.50 446.30,283.50 448.70,283.50" fill="#333"/>
<line x1="460.50" y1="246.00" x2="460.50" y2="271.30" stroke="#3a3a3a" stroke-width="0.8"/>
<polygon points="460.50,271.30 459.30,267.30 461.70,267.30" fill="#333"/>
<line x1="460.50" y1="279.50" x2="460.50" y2="288.50" stroke="#3a3a3a" stroke-width="0.8"/>
<polygon points="460.50,279.50 459.30,283.50 461.70,283.50" fill="#333"/>
<line x1="470.50" y1="246.00" x2="470.50" y2="271.30" stroke="#3a3a3a" stroke-width="0.8"/>
<polygon points="470.50,271.30 469.30,267.30 471.70,267.30" fill="#333"/>
<line x1="470.50" y1="283.50" x2="470.50" y2="292.00" stroke="#3a3a3a" stroke-width="0.8"/>
<polygon points="470.50,283.50 469.30,287.50 471.70,287.50" fill="#333"/>
<text x="0.00" y="0.00" font-size="10.1" text-anchor="middle" fill="#222" font-weight="normal" transform="translate(445.10 258.70) rotate(-90) scale(0.96 1)">0.60</text>
<text x="0.00" y="0.00" font-size="10.1" text-anchor="middle" fill="#222" font-weight="normal" transform="translate(458.60 256.60) rotate(-90) scale(0.96 1)">0.90</text>
<text x="0.00" y="0.00" font-size="10.1" text-anchor="middle" fill="#222" font-weight="normal" transform="translate(469.30 257.00) rotate(-90) scale(0.96 1)">1.54</text>
<line x1="359.50" y1="265.50" x2="369.00" y2="265.50" stroke="#3a3a3a" stroke-width="0.7"/>
<polygon points="362.50,265.50 366.00,264.40 366.00,266.60" fill="#333"/>
<defs><pattern id="hatch" width="2.2" height="4" patternUnits="userSpaceOnUse" patternTransform="skewX(-30)"><rect width="2.2" height="4" fill="#eee"/><rect width="1.1" height="4" fill="#444"/></pattern></defs>
<rect x="125" y="335.2" width="28" height="3.4" fill="url(#hatch)" stroke="#333" stroke-width="0.6"/>
<line x1="82" y1="335.6" x2="118" y2="335.6" stroke="#333" stroke-width="1.1"/>
<line x1="83" y1="338.4" x2="118" y2="338.4" stroke="#333" stroke-width="1.1" stroke-dasharray="1.2,1"/>
<line x1="118.00" y1="336.50" x2="125.00" y2="336.50" stroke="#555" stroke-width="0.8"/>
<rect x="153.00" y="336.20" width="57.00" height="1.40" fill="#555"/>
<rect x="160.00" y="337.60" width="50.00" height="1.00" fill="#888"/>
<path d="M84.5,326.6 Q81.6,327 81.6,330 L81.6,336.5" fill="none" stroke="#3a3a3a" stroke-width="0.9" />
<line x1="84.50" y1="326.50" x2="223.50" y2="326.50" stroke="#3a3a3a" stroke-width="0.9"/>
<line x1="97.00" y1="327.30" x2="222.00" y2="327.30" stroke="#2a2a2a" stroke-width="1.6"/>
<path d="M223.2,326.6 Q224.6,326.8 224.6,329 L224.6,337 Q224.6,338.6 223,338.6 L81.6,338.6" fill="none" stroke="#3a3a3a" stroke-width="0.9" />
<line x1="221.50" y1="328.00" x2="221.50" y2="338.60" stroke="#3a3a3a" stroke-width="0.7"/>
<line x1="84.00" y1="329.50" x2="97.00" y2="329.50" stroke="#666" stroke-width="0.6"/>
<line x1="97.00" y1="330.50" x2="221.60" y2="330.50" stroke="#777" stroke-width="0.6"/>
<line x1="91.50" y1="327.20" x2="91.50" y2="334.50" stroke="#3a3a3a" stroke-width="0.8"/>
<line x1="83.00" y1="334.50" x2="221.60" y2="334.50" stroke="#777" stroke-width="0.6"/>
<path d="M99,335 Q108,331 116,329.8 Q119.5,329.5 122,333" fill="none" stroke="#2a2a2a" stroke-width="1.5" />
<path d="M108,334.5 Q114,332 118,331.5" fill="none" stroke="#555" stroke-width="0.6" />
<path d="M167,335 Q174,331 178.5,329.8 Q182,329.5 184.5,333" fill="none" stroke="#2a2a2a" stroke-width="1.5" />
<path d="M173,334.5 Q177,332.5 181,331.5" fill="none" stroke="#555" stroke-width="0.6" />
<line x1="75.00" y1="339.00" x2="80.50" y2="339.00" stroke="#333" stroke-width="1.6"/>
<line x1="75.50" y1="339.00" x2="75.50" y2="352.00" stroke="#3a3a3a" stroke-width="0.8"/>
<line x1="79.50" y1="341.00" x2="79.50" y2="352.00" stroke="#3a3a3a" stroke-width="0.8"/>
<line x1="77.50" y1="339.00" x2="77.50" y2="362.50" stroke="#3a3a3a" stroke-width="0.8"/>
<line x1="66.00" y1="350.50" x2="75.50" y2="350.50" stroke="#3a3a3a" stroke-width="0.8"/>
<polygon points="75.50,350.50 71.50,349.30 71.50,351.70" fill="#333"/>
<line x1="79.50" y1="350.50" x2="103.00" y2="350.50" stroke="#3a3a3a" stroke-width="0.8"/>
<polygon points="79.50,350.50 83.50,349.30 83.50,351.70" fill="#333"/>
<line x1="208.50" y1="339.00" x2="208.50" y2="352.00" stroke="#3a3a3a" stroke-width="0.8"/>
<line x1="210.50" y1="339.00" x2="210.50" y2="362.50" stroke="#3a3a3a" stroke-width="0.8"/>
<line x1="198.00" y1="350.50" x2="208.30" y2="350.50" stroke="#3a3a3a" stroke-width="0.8"/>
<polygon points="208.30,350.50 204.30,349.30 204.30,351.70" fill="#333"/>
<line x1="210.30" y1="350.50" x2="236.00" y2="350.50" stroke="#3a3a3a" stroke-width="0.8"/>
<polygon points="210.30,350.50 214.30,349.30 214.30,351.70" fill="#333"/>
<line x1="123.80" y1="427.50" x2="216.20" y2="427.50" stroke="#3a3a3a" stroke-width="0.9"/>
<line x1="123.80" y1="546.50" x2="216.20" y2="546.50" stroke="#3a3a3a" stroke-width="0.9"/>
<line x1="123.50" y1="408.50" x2="123.50" y2="549.40" stroke="#3a3a3a" stroke-width="0.9"/>
<line x1="98.50" y1="425.00" x2="98.50" y2="549.40" stroke="#3a3a3a" stroke-width="0.9"/>
<line x1="98.20" y1="549.50" x2="123.80" y2="549.50" stroke="#3a3a3a" stroke-width="0.9"/>
<path d="M98.5,425 L99.6,413 Q100.2,408.5 103,408.5 L111.8,408.5" fill="none" stroke="#3a3a3a" stroke-width="0.9" />
<path d="M111.8,408.5 L120.5,407.2 Q123.8,407 123.8,409" fill="none" stroke="#2a2a2a" stroke-width="1.3" />
<line x1="108.50" y1="408.50" x2="108.50" y2="425.00" stroke="#3a3a3a" stroke-width="0.7"/>
<line x1="111.50" y1="408.50" x2="111.50" y2="533.20" stroke="#3a3a3a" stroke-width="0.8"/>
<line x1="100.00" y1="416.50" x2="111.60" y2="416.50" stroke="#3a3a3a" stroke-width="0.8"/>
<rect x="98.30" y="425.20" width="10.30" height="25.20" rx="1.6" fill="none" stroke="#3a3a3a" stroke-width="0.9"/>
<line x1="100.50" y1="426.70" x2="100.50" y2="448.90" stroke="#777" stroke-width="0.7"/>
<rect x="98.30" y="467.70" width="10.30" height="22.00" rx="1.6" fill="none" stroke="#3a3a3a" stroke-width="0.9"/>
<line x1="100.50" y1="469.20" x2="100.50" y2="488.20" stroke="#777" stroke-width="0.7"/>
<rect x="98.30" y="507.20" width="10.30" height="26.00" rx="1.6" fill="none" stroke="#3a3a3a" stroke-width="0.9"/>
<line x1="100.50" y1="508.70" x2="100.50" y2="531.70" stroke="#777" stroke-width="0.7"/>
<rect x="108.60" y="440.50" width="2.80" height="7.30" rx="0" fill="none" stroke="#3a3a3a" stroke-width="0.8"/>
<rect x="108.60" y="509.60" width="2.80" height="7.90" rx="0" fill="none" stroke="#3a3a3a" stroke-width="0.8"/>
<line x1="100.50" y1="450.40" x2="100.50" y2="467.70" stroke="#3a3a3a" stroke-width="0.8"/>
<line x1="108.50" y1="450.40" x2="108.50" y2="467.70" stroke="#3a3a3a" stroke-width="0.8"/>
<line x1="100.50" y1="489.70" x2="100.50" y2="507.20" stroke="#3a3a3a" stroke-width="0.8"/>
<line x1="108.50" y1="489.70" x2="108.50" y2="507.20" stroke="#3a3a3a" stroke-width="0.8"/>
<rect x="100.60" y="453.60" width="7.50" height="2.10" fill="#333"/>
<rect x="100.60" y="463.00" width="7.50" height="2.10" fill="#333"/>
<rect x="100.60" y="493.30" width="7.50" height="2.40" fill="#333"/>
<rect x="100.60" y="503.60" width="7.50" height="2.40" fill="#333"/>
<line x1="102.00" y1="457.00" x2="106.00" y2="460.00" stroke="#555" stroke-width="0.6"/>
<line x1="106.00" y1="460.00" x2="102.00" y2="463.00" stroke="#555" stroke-width="0.6"/>
<line x1="102.00" y1="497.00" x2="106.00" y2="500.00" stroke="#555" stroke-width="0.6"/>
<line x1="106.00" y1="500.00" x2="102.00" y2="503.00" stroke="#555" stroke-width="0.6"/>
<rect x="100.30" y="417.00" width="3.70" height="8.00" fill="#c8c8c8"/>
<line x1="104.50" y1="425.00" x2="104.50" y2="539.00" stroke="#666" stroke-width="0.8" stroke-dasharray="3,2"/>
<line x1="216.50" y1="408.50" x2="216.50" y2="549.40" stroke="#3a3a3a" stroke-width="0.9"/>
<line x1="241.50" y1="425.00" x2="241.50" y2="549.40" stroke="#3a3a3a" stroke-width="0.9"/>
<line x1="241.80" y1="549.50" x2="216.20" y2="549.50" stroke="#3a3a3a" stroke-width="0.9"/>
<path d="M241.5,425 L240.4,413 Q239.8,408.5 237.0,408.5 L228.2,408.5" fill="none" stroke="#3a3a3a" stroke-width="0.9" />
<path d="M228.2,408.5 L219.5,407.2 Q216.2,407 216.2,409" fill="none" stroke="#2a2a2a" stroke-width="1.3" />
<line x1="231.50" y1="408.50" x2="231.50" y2="425.00" stroke="#3a3a3a" stroke-width="0.7"/>
<line x1="228.50" y1="408.50" x2="228.50" y2="533.20" stroke="#3a3a3a" stroke-width="0.8"/>
<line x1="240.00" y1="416.50" x2="228.40" y2="416.50" stroke="#3a3a3a" stroke-width="0.8"/>
<rect x="231.40" y="425.20" width="10.30" height="25.20" rx="1.6" fill="none" stroke="#3a3a3a" stroke-width="0.9"/>
<line x1="239.50" y1="426.70" x2="239.50" y2="448.90" stroke="#777" stroke-width="0.7"/>
<rect x="231.40" y="467.70" width="10.30" height="22.00" rx="1.6" fill="none" stroke="#3a3a3a" stroke-width="0.9"/>
<line x1="239.50" y1="469.20" x2="239.50" y2="488.20" stroke="#777" stroke-width="0.7"/>
<rect x="231.40" y="507.20" width="10.30" height="26.00" rx="1.6" fill="none" stroke="#3a3a3a" stroke-width="0.9"/>
<line x1="239.50" y1="508.70" x2="239.50" y2="531.70" stroke="#777" stroke-width="0.7"/>
<rect x="228.60" y="440.50" width="2.80" height="7.30" rx="0" fill="none" stroke="#3a3a3a" stroke-width="0.8"/>
<rect x="228.60" y="509.60" width="2.80" height="7.90" rx="0" fill="none" stroke="#3a3a3a" stroke-width="0.8"/>
<line x1="239.50" y1="450.40" x2="239.50" y2="467.70" stroke="#3a3a3a" stroke-width="0.8"/>
<line x1="231.50" y1="450.40" x2="231.50" y2="467.70" stroke="#3a3a3a" stroke-width="0.8"/>
<line x1="239.50" y1="489.70" x2="239.50" y2="507.20" stroke="#3a3a3a" stroke-width="0.8"/>
<line x1="231.50" y1="489.70" x2="231.50" y2="507.20" stroke="#3a3a3a" stroke-width="0.8"/>
<rect x="231.90" y="453.60" width="7.50" height="2.10" fill="#333"/>
<rect x="231.90" y="463.00" width="7.50" height="2.10" fill="#333"/>
<rect x="231.90" y="493.30" width="7.50" height="2.40" fill="#333"/>
<rect x="231.90" y="503.60" width="7.50" height="2.40" fill="#333"/>
<line x1="238.00" y1="457.00" x2="234.00" y2="460.00" stroke="#555" stroke-width="0.6"/>
<line x1="234.00" y1="460.00" x2="238.00" y2="463.00" stroke="#555" stroke-width="0.6"/>
<line x1="238.00" y1="497.00" x2="234.00" y2="500.00" stroke="#555" stroke-width="0.6"/>
<line x1="234.00" y1="500.00" x2="238.00" y2="503.00" stroke="#555" stroke-width="0.6"/>
<rect x="236.00" y="417.00" width="3.70" height="8.00" fill="#c8c8c8"/>
<line x1="235.50" y1="425.00" x2="235.50" y2="539.00" stroke="#666" stroke-width="0.8" stroke-dasharray="3,2"/>
<line x1="140.50" y1="427.00" x2="140.50" y2="563.00" stroke="#555" stroke-width="0.8" stroke-dasharray="3,1.8"/>
<rect x="137.40" y="418.70" width="6.00" height="7.30" rx="0.6" fill="#fff" stroke="#3a3a3a" stroke-width="0.8"/>
<rect x="138.20" y="422.30" width="4.40" height="3.00" fill="#555"/>
<rect x="136.10" y="432.00" width="8.60" height="5.30" rx="0.5" fill="#fff" stroke="#3a3a3a" stroke-width="0.8"/>
<rect x="137.80" y="432.80" width="5.20" height="3.80" fill="#555"/>
<rect x="136.10" y="444.70" width="8.60" height="6.60" rx="0.5" fill="#fff" stroke="#3a3a3a" stroke-width="0.9"/>
<path d="M138.0,450.5 L138.0,447.7 Q140.4,445.8 142.8,447.7 L142.8,450.5" fill="none" stroke="#444" stroke-width="0.7" />
<rect x="136.10" y="466.70" width="8.60" height="5.30" rx="1.5" fill="#888" stroke="#3a3a3a" stroke-width="0.8"/>
<line x1="139.50" y1="467.30" x2="139.50" y2="471.50" stroke="#eee" stroke-width="0.8"/>
<line x1="141.50" y1="467.30" x2="141.50" y2="471.50" stroke="#eee" stroke-width="0.8"/>
<rect x="136.10" y="504.00" width="8.60" height="9.40" rx="0.5" fill="#fff" stroke="#3a3a3a" stroke-width="0.9"/>
<rect x="136.40" y="504.30" width="8.00" height="2.20" fill="#666"/>
<rect x="137.90" y="507.50" width="5.00" height="4.50" rx="0" fill="none" stroke="#444" stroke-width="0.6"/>
<rect x="136.10" y="537.30" width="8.60" height="5.30" rx="0.5" fill="#fff" stroke="#3a3a3a" stroke-width="0.8"/>
<rect x="138.20" y="538.30" width="4.40" height="3.30" fill="#666"/>
<path d="M137.4,547 L137.4,555 L139.4,555.7 L140.4,553.5 L141.4,555.7 L143.4,555 L143.4,547" fill="none" stroke="#3a3a3a" stroke-width="0.8" />
<rect x="137.90" y="547.00" width="5.00" height="2.50" fill="#555"/>
<line x1="160.50" y1="427.00" x2="160.50" y2="563.00" stroke="#555" stroke-width="0.8" stroke-dasharray="3,1.8"/>
<rect x="157.50" y="418.70" width="6.00" height="7.30" rx="0.6" fill="#fff" stroke="#3a3a3a" stroke-width="0.8"/>
<rect x="158.30" y="422.30" width="4.40" height="3.00" fill="#555"/>
<rect x="156.20" y="432.00" width="8.60" height="5.30" rx="0.5" fill="#fff" stroke="#3a3a3a" stroke-width="0.8"/>
<rect x="157.90" y="432.80" width="5.20" height="3.80" fill="#555"/>
<rect x="156.20" y="444.70" width="8.60" height="6.60" rx="0.5" fill="#fff" stroke="#3a3a3a" stroke-width="0.9"/>
<path d="M158.1,450.5 L158.1,447.7 Q160.5,445.8 162.9,447.7 L162.9,450.5" fill="none" stroke="#444" stroke-width="0.7" />
<rect x="156.20" y="466.70" width="8.60" height="5.30" rx="1.5" fill="#888" stroke="#3a3a3a" stroke-width="0.8"/>
<line x1="159.50" y1="467.30" x2="159.50" y2="471.50" stroke="#eee" stroke-width="0.8"/>
<line x1="161.50" y1="467.30" x2="161.50" y2="471.50" stroke="#eee" stroke-width="0.8"/>
<rect x="156.20" y="504.00" width="8.60" height="9.40" rx="0.5" fill="#fff" stroke="#3a3a3a" stroke-width="0.9"/>
<rect x="156.50" y="504.30" width="8.00" height="2.20" fill="#666"/>
<rect x="158.00" y="507.50" width="5.00" height="4.50" rx="0" fill="none" stroke="#444" stroke-width="0.6"/>
<rect x="156.20" y="537.30" width="8.60" height="5.30" rx="0.5" fill="#fff" stroke="#3a3a3a" stroke-width="0.8"/>
<rect x="158.30" y="538.30" width="4.40" height="3.30" fill="#666"/>
<path d="M157.5,547 L157.5,555 L159.5,555.7 L160.5,553.5 L161.5,555.7 L163.5,555 L163.5,547" fill="none" stroke="#3a3a3a" stroke-width="0.8" />
<rect x="158.00" y="547.00" width="5.00" height="2.50" fill="#555"/>
<line x1="180.50" y1="427.00" x2="180.50" y2="563.00" stroke="#888" stroke-width="0.8" stroke-dasharray="3,1.8"/>
<rect x="177.60" y="418.70" width="6.00" height="7.30" rx="0.6" fill="#fff" stroke="#3a3a3a" stroke-width="0.8"/>
<rect x="178.40" y="422.30" width="4.40" height="3.00" fill="#555"/>
<rect x="176.30" y="432.00" width="8.60" height="5.30" rx="0.5" fill="#fff" stroke="#3a3a3a" stroke-width="0.8"/>
<rect x="178.00" y="432.80" width="5.20" height="3.80" fill="#555"/>
<rect x="176.30" y="444.70" width="8.60" height="6.60" rx="0.5" fill="#fff" stroke="#3a3a3a" stroke-width="0.9"/>
<path d="M178.2,450.5 L178.2,447.7 Q180.6,445.8 183.0,447.7 L183.0,450.5" fill="none" stroke="#444" stroke-width="0.7" />
<rect x="176.30" y="466.70" width="8.60" height="5.30" rx="1.5" fill="#888" stroke="#3a3a3a" stroke-width="0.8"/>
<line x1="179.50" y1="467.30" x2="179.50" y2="471.50" stroke="#eee" stroke-width="0.8"/>
<line x1="181.50" y1="467.30" x2="181.50" y2="471.50" stroke="#eee" stroke-width="0.8"/>
<rect x="176.30" y="504.00" width="8.60" height="9.40" rx="0.5" fill="#fff" stroke="#3a3a3a" stroke-width="0.9"/>
<rect x="176.60" y="504.30" width="8.00" height="2.20" fill="#666"/>
<rect x="178.10" y="507.50" width="5.00" height="4.50" rx="0" fill="none" stroke="#444" stroke-width="0.6"/>
<rect x="176.30" y="537.30" width="8.60" height="5.30" rx="0.5" fill="#fff" stroke="#3a3a3a" stroke-width="0.8"/>
<rect x="178.40" y="538.30" width="4.40" height="3.30" fill="#666"/>
<path d="M177.6,547 L177.6,555 L179.6,555.7 L180.6,553.5 L181.6,555.7 L183.6,555 L183.6,547" fill="none" stroke="#3a3a3a" stroke-width="0.8" />
<rect x="178.10" y="547.00" width="5.00" height="2.50" fill="#555"/>
<line x1="200.50" y1="427.00" x2="200.50" y2="563.00" stroke="#555" stroke-width="0.8" stroke-dasharray="3,1.8"/>
<rect x="197.70" y="418.70" width="6.00" height="7.30" rx="0.6" fill="#fff" stroke="#3a3a3a" stroke-width="0.8"/>
<rect x="198.50" y="422.30" width="4.40" height="3.00" fill="#555"/>
<rect x="196.40" y="432.00" width="8.60" height="5.30" rx="0.5" fill="#fff" stroke="#3a3a3a" stroke-width="0.8"/>
<rect x="198.10" y="432.80" width="5.20" height="3.80" fill="#555"/>
<rect x="196.40" y="444.70" width="8.60" height="6.60" rx="0.5" fill="#fff" stroke="#3a3a3a" stroke-width="0.9"/>
<path d="M198.29999999999998,450.5 L198.29999999999998,447.7 Q200.7,445.8 203.1,447.7 L203.1,450.5" fill="none" stroke="#444" stroke-width="0.7" />
<rect x="196.40" y="466.70" width="8.60" height="5.30" rx="1.5" fill="#888" stroke="#3a3a3a" stroke-width="0.8"/>
<line x1="199.50" y1="467.30" x2="199.50" y2="471.50" stroke="#eee" stroke-width="0.8"/>
<line x1="202.50" y1="467.30" x2="202.50" y2="471.50" stroke="#eee" stroke-width="0.8"/>
<rect x="196.40" y="504.00" width="8.60" height="9.40" rx="0.5" fill="#fff" stroke="#3a3a3a" stroke-width="0.9"/>
<rect x="196.70" y="504.30" width="8.00" height="2.20" fill="#666"/>
<rect x="198.20" y="507.50" width="5.00" height="4.50" rx="0" fill="none" stroke="#444" stroke-width="0.6"/>
<rect x="196.40" y="537.30" width="8.60" height="5.30" rx="0.5" fill="#fff" stroke="#3a3a3a" stroke-width="0.8"/>
<rect x="198.50" y="538.30" width="4.40" height="3.30" fill="#666"/>
<path d="M197.7,547 L197.7,555 L199.7,555.7 L200.7,553.5 L201.7,555.7 L203.7,555 L203.7,547" fill="none" stroke="#3a3a3a" stroke-width="0.8" />
<rect x="198.20" y="547.00" width="5.00" height="2.50" fill="#555"/>
<line x1="100.50" y1="403.00" x2="100.50" y2="409.00" stroke="#3a3a3a" stroke-width="0.8"/>
<line x1="108.50" y1="402.00" x2="108.50" y2="408.50" stroke="#3a3a3a" stroke-width="0.8"/>
<line x1="77.50" y1="403.50" x2="100.90" y2="403.50" stroke="#3a3a3a" stroke-width="0.8"/>
<polygon points="100.90,403.50 96.90,402.30 96.90,404.70" fill="#333"/>
<line x1="108.40" y1="403.50" x2="117.80" y2="403.50" stroke="#3a3a3a" stroke-width="0.8"/>
<polygon points="108.40,403.50 112.40,402.30 112.40,404.70" fill="#333"/>
<line x1="104.50" y1="386.00" x2="104.50" y2="425.00" stroke="#3a3a3a" stroke-width="0.8"/>
<line x1="235.50" y1="386.00" x2="235.50" y2="425.00" stroke="#3a3a3a" stroke-width="0.8"/>
<line x1="160.50" y1="398.00" x2="160.50" y2="427.00" stroke="#3a3a3a" stroke-width="0.8"/>
<line x1="160.70" y1="400.50" x2="200.80" y2="400.50" stroke="#3a3a3a" stroke-width="0.8"/>
<polygon points="160.70,400.50 165.70,399.10 165.70,401.90" fill="#333"/>
<polygon points="200.80,400.50 195.80,399.10 195.80,401.90" fill="#333"/>
<line x1="200.50" y1="398.00" x2="200.50" y2="412.00" stroke="#3a3a3a" stroke-width="0.8"/>
<line x1="135.80" y1="413.50" x2="160.70" y2="413.50" stroke="#3a3a3a" stroke-width="0.8"/>
<polygon points="160.70,413.50 155.70,412.10 155.70,414.90" fill="#333"/>
<line x1="198.50" y1="405.00" x2="198.50" y2="418.00" stroke="#3a3a3a" stroke-width="0.8"/>
<line x1="203.50" y1="405.00" x2="203.50" y2="418.00" stroke="#3a3a3a" stroke-width="0.8"/>
<line x1="193.30" y1="410.50" x2="198.80" y2="410.50" stroke="#3a3a3a" stroke-width="0.8"/>
<polygon points="198.80,410.50 194.80,409.30 194.80,411.70" fill="#333"/>
<line x1="203.00" y1="410.50" x2="213.30" y2="410.50" stroke="#3a3a3a" stroke-width="0.8"/>
<polygon points="203.00,410.50 207.00,409.30 207.00,411.70" fill="#333"/>
<line x1="180.00" y1="413.50" x2="190.80" y2="413.50" stroke="#3a3a3a" stroke-width="0.7"/>
<polygon points="183.00,413.50 186.50,412.40 186.50,414.60" fill="#333"/>
<line x1="90.60" y1="425.50" x2="98.00" y2="425.50" stroke="#3a3a3a" stroke-width="0.8"/>
<line x1="90.60" y1="533.50" x2="98.00" y2="533.50" stroke="#3a3a3a" stroke-width="0.8"/>
<line x1="90.50" y1="425.50" x2="90.50" y2="533.20" stroke="#333" stroke-width="0.8"/>
<polygon points="90.50,425.50 89.10,430.50 91.90,430.50" fill="#333"/>
<polygon points="90.50,533.20 89.10,528.20 91.90,528.20" fill="#333"/>
<line x1="79.80" y1="479.50" x2="98.00" y2="479.50" stroke="#3a3a3a" stroke-width="0.8"/>
<line x1="79.80" y1="549.50" x2="98.00" y2="549.50" stroke="#3a3a3a" stroke-width="0.8"/>
<line x1="79.50" y1="479.50" x2="79.50" y2="549.40" stroke="#333" stroke-width="0.8"/>
<polygon points="79.50,479.50 78.10,484.50 80.90,484.50" fill="#333"/>
<polygon points="79.50,549.40 78.10,544.40 80.90,544.40" fill="#333"/>
<text x="0.00" y="0.00" font-size="10.1" text-anchor="middle" fill="#222" font-weight="normal" transform="translate(88.90 466.50) rotate(-90) scale(0.96 1)">13.50</text>
<text x="0.00" y="0.00" font-size="10.1" text-anchor="middle" fill="#222" font-weight="normal" transform="translate(78.30 513.30) rotate(-90) scale(0.96 1)">8.75</text>
<line x1="241.50" y1="455.50" x2="258.00" y2="455.50" stroke="#3a3a3a" stroke-width="0.8"/>
<line x1="241.50" y1="459.50" x2="262.00" y2="459.50" stroke="#3a3a3a" stroke-width="0.8"/>
<line x1="241.50" y1="462.50" x2="254.00" y2="462.50" stroke="#3a3a3a" stroke-width="0.8"/>
<line x1="241.50" y1="499.50" x2="262.00" y2="499.50" stroke="#3a3a3a" stroke-width="0.8"/>
<line x1="252.50" y1="432.00" x2="252.50" y2="455.50" stroke="#3a3a3a" stroke-width="0.8"/>
<polygon points="252.50,455.50 251.30,451.50 253.70,451.50" fill="#333"/>
<line x1="252.50" y1="462.90" x2="252.50" y2="470.00" stroke="#3a3a3a" stroke-width="0.8"/>
<polygon points="252.50,462.90 251.30,466.90 253.70,466.90" fill="#333"/>
<line x1="258.50" y1="459.40" x2="258.50" y2="499.30" stroke="#333" stroke-width="0.8"/>
<polygon points="258.50,459.40 257.10,464.40 259.90,464.40" fill="#333"/>
<polygon points="258.50,499.30 257.10,494.30 259.90,494.30" fill="#333"/>
<text x="0.00" y="0.00" font-size="10.1" text-anchor="middle" fill="#222" font-weight="normal" transform="translate(250.90 440.40) rotate(-90) scale(0.96 1)">1.00</text>
<text x="0.00" y="0.00" font-size="10.1" text-anchor="middle" fill="#222" font-weight="normal" transform="translate(256.30 481.70) rotate(-90) scale(0.96 1)">5.00</text>
<line x1="312.50" y1="363.00" x2="312.50" y2="392.50" stroke="#3a3a3a" stroke-width="0.8"/>
<line x1="455.50" y1="363.00" x2="455.50" y2="392.50" stroke="#3a3a3a" stroke-width="0.8"/>
<line x1="337.50" y1="377.00" x2="337.50" y2="392.50" stroke="#3a3a3a" stroke-width="0.8"/>
<line x1="430.50" y1="377.00" x2="430.50" y2="392.50" stroke="#3a3a3a" stroke-width="0.8"/>
<line x1="312.50" y1="392.50" x2="337.50" y2="392.50" stroke="#444" stroke-width="0.9" stroke-dasharray="3.2,2.2"/>
<line x1="337.50" y1="392.50" x2="337.50" y2="412.50" stroke="#444" stroke-width="0.9" stroke-dasharray="3.2,2.2"/>
<line x1="337.50" y1="412.50" x2="430.30" y2="412.50" stroke="#444" stroke-width="0.9" stroke-dasharray="3.2,2.2"/>
<line x1="430.50" y1="412.50" x2="430.50" y2="392.50" stroke="#444" stroke-width="0.9" stroke-dasharray="3.2,2.2"/>
<line x1="430.30" y1="392.50" x2="455.60" y2="392.50" stroke="#444" stroke-width="0.9" stroke-dasharray="3.2,2.2"/>
<line x1="312.50" y1="392.50" x2="312.50" y2="535.00" stroke="#444" stroke-width="0.9" stroke-dasharray="3.2,2.2"/>
<line x1="455.50" y1="392.50" x2="455.50" y2="535.00" stroke="#444" stroke-width="0.9" stroke-dasharray="3.2,2.2"/>
<line x1="312.50" y1="535.50" x2="337.50" y2="535.50" stroke="#444" stroke-width="0.9" stroke-dasharray="3.2,2.2"/>
<line x1="337.50" y1="535.00" x2="337.50" y2="530.80" stroke="#444" stroke-width="0.9"/>
<line x1="337.50" y1="530.50" x2="430.30" y2="530.50" stroke="#444" stroke-width="0.9" stroke-dasharray="3.2,2.2"/>
<line x1="430.50" y1="530.80" x2="430.50" y2="535.00" stroke="#444" stroke-width="0.9"/>
<line x1="430.30" y1="535.50" x2="455.60" y2="535.50" stroke="#444" stroke-width="0.9" stroke-dasharray="3.2,2.2"/>
<line x1="352.50" y1="396.00" x2="352.50" y2="541.00" stroke="#444" stroke-width="0.8" stroke-dasharray="3.5,2"/>
<rect x="347.50" y="402.00" width="10.80" height="10.50" fill="#3c3c3c"/>
<rect x="347.50" y="530.80" width="10.80" height="10.50" fill="#3c3c3c"/>
<line x1="352.50" y1="402.00" x2="352.50" y2="412.50" stroke="#2a2a2a" stroke-width="0.6" stroke-dasharray="1.5,1"/>
<line x1="352.50" y1="530.80" x2="352.50" y2="541.30" stroke="#2a2a2a" stroke-width="0.6" stroke-dasharray="1.5,1"/>
<line x1="372.50" y1="396.00" x2="372.50" y2="541.00" stroke="#444" stroke-width="0.8" stroke-dasharray="3.5,2"/>
<rect x="367.20" y="402.00" width="11.10" height="10.50" fill="#3c3c3c"/>
<rect x="367.20" y="530.80" width="11.10" height="10.50" fill="#3c3c3c"/>
<line x1="372.50" y1="402.00" x2="372.50" y2="412.50" stroke="#2a2a2a" stroke-width="0.6" stroke-dasharray="1.5,1"/>
<line x1="372.50" y1="530.80" x2="372.50" y2="541.30" stroke="#2a2a2a" stroke-width="0.6" stroke-dasharray="1.5,1"/>
<line x1="393.50" y1="396.00" x2="393.50" y2="541.00" stroke="#444" stroke-width="0.8" stroke-dasharray="3.5,2"/>
<rect x="388.00" y="402.00" width="10.80" height="10.50" fill="#3c3c3c"/>
<rect x="388.00" y="530.80" width="10.80" height="10.50" fill="#3c3c3c"/>
<line x1="393.50" y1="402.00" x2="393.50" y2="412.50" stroke="#2a2a2a" stroke-width="0.6" stroke-dasharray="1.5,1"/>
<line x1="393.50" y1="530.80" x2="393.50" y2="541.30" stroke="#2a2a2a" stroke-width="0.6" stroke-dasharray="1.5,1"/>
<line x1="413.50" y1="396.00" x2="413.50" y2="541.00" stroke="#444" stroke-width="0.8" stroke-dasharray="3.5,2"/>
<rect x="408.00" y="402.00" width="11.20" height="10.50" fill="#3c3c3c"/>
<rect x="408.00" y="530.80" width="11.20" height="10.50" fill="#3c3c3c"/>
<line x1="413.50" y1="402.00" x2="413.50" y2="412.50" stroke="#2a2a2a" stroke-width="0.6" stroke-dasharray="1.5,1"/>
<line x1="413.50" y1="530.80" x2="413.50" y2="541.30" stroke="#2a2a2a" stroke-width="0.6" stroke-dasharray="1.5,1"/>
<rect x="310.80" y="432.00" width="15.90" height="25.00" fill="#3c3c3c"/>
<rect x="310.80" y="472.20" width="15.90" height="24.90" fill="#3c3c3c"/>
<line x1="318.50" y1="427.00" x2="318.50" y2="501.00" stroke="#555" stroke-width="0.8" stroke-dasharray="3,1.6"/>
<rect x="441.30" y="432.00" width="16.30" height="25.00" fill="#3c3c3c"/>
<rect x="441.30" y="472.20" width="16.30" height="24.90" fill="#3c3c3c"/>
<line x1="449.50" y1="427.00" x2="449.50" y2="501.00" stroke="#555" stroke-width="0.8" stroke-dasharray="3,1.6"/>
<line x1="299.00" y1="444.50" x2="303.00" y2="444.50" stroke="#3a3a3a" stroke-width="0.8"/>
<line x1="305.50" y1="444.50" x2="333.70" y2="444.50" stroke="#3a3a3a" stroke-width="0.8"/>
<line x1="299.00" y1="484.50" x2="303.00" y2="484.50" stroke="#3a3a3a" stroke-width="0.8"/>
<line x1="305.50" y1="484.50" x2="333.70" y2="484.50" stroke="#3a3a3a" stroke-width="0.8"/>
<line x1="293.90" y1="464.50" x2="306.10" y2="464.50" stroke="#444" stroke-width="0.9"/>
<line x1="310.00" y1="464.50" x2="315.10" y2="464.50" stroke="#444" stroke-width="0.9"/>
<line x1="319.00" y1="464.50" x2="321.00" y2="464.50" stroke="#444" stroke-width="0.9"/>
<line x1="324.10" y1="464.50" x2="329.30" y2="464.50" stroke="#444" stroke-width="0.9"/>
<line x1="299.50" y1="416.50" x2="299.50" y2="444.50" stroke="#3a3a3a" stroke-width="0.8"/>
<polygon points="299.50,444.50 298.30,440.50 300.70,440.50" fill="#333"/>
<line x1="299.50" y1="484.70" x2="299.50" y2="496.00" stroke="#3a3a3a" stroke-width="0.8"/>
<polygon points="299.50,484.70 298.30,488.70 300.70,488.70" fill="#333"/>
<text x="0.00" y="0.00" font-size="10.1" text-anchor="middle" fill="#222" font-weight="normal" transform="translate(297.90 428.70) rotate(-90) scale(0.96 1)">5.00</text>
<line x1="294.50" y1="464.70" x2="294.50" y2="535.00" stroke="#333" stroke-width="0.8"/>
<polygon points="294.50,464.70 293.10,469.70 295.90,469.70" fill="#333"/>
<polygon points="294.50,535.00 293.10,530.00 295.90,530.00" fill="#333"/>
<line x1="293.00" y1="535.50" x2="312.00" y2="535.50" stroke="#3a3a3a" stroke-width="0.8"/>
<text x="0.00" y="0.00" font-size="10.1" text-anchor="middle" fill="#222" font-weight="normal" transform="translate(292.70 499.40) rotate(-90) scale(0.96 1)">8.75</text>
<line x1="458.30" y1="392.50" x2="486.00" y2="392.50" stroke="#3a3a3a" stroke-width="0.8"/>
<line x1="457.50" y1="535.50" x2="486.00" y2="535.50" stroke="#3a3a3a" stroke-width="0.8"/>
<line x1="483.50" y1="392.20" x2="483.50" y2="535.00" stroke="#333" stroke-width="0.8"/>
<polygon points="483.50,392.20 482.10,397.20 484.90,397.20" fill="#333"/>
<polygon points="483.50,535.00 482.10,530.00 484.90,530.00" fill="#333"/>
<text x="0.00" y="0.00" font-size="10.1" text-anchor="middle" fill="#222" font-weight="normal" transform="translate(481.20 462.50) rotate(-90) scale(0.96 1)">17.80</text>
<line x1="467.50" y1="449.10" x2="467.50" y2="472.10" stroke="#3a3a3a" stroke-width="0.8"/>
<polygon points="467.50,472.10 466.30,468.10 468.70,468.10" fill="#333"/>
<line x1="459.50" y1="472.50" x2="468.00" y2="472.50" stroke="#3a3a3a" stroke-width="0.8"/>
<text x="0.00" y="0.00" font-size="10.1" text-anchor="middle" fill="#222" font-weight="normal" transform="translate(465.60 457.50) rotate(-90) scale(0.96 1)">3.00</text>
<line x1="441.50" y1="497.00" x2="441.50" y2="505.00" stroke="#3a3a3a" stroke-width="0.8"/>
<line x1="418.00" y1="502.50" x2="441.20" y2="502.50" stroke="#3a3a3a" stroke-width="0.8"/>
<polygon points="441.20,502.50 437.20,501.30 437.20,503.70" fill="#333"/>
<line x1="457.80" y1="502.50" x2="467.90" y2="502.50" stroke="#3a3a3a" stroke-width="0.8"/>
<polygon points="457.80,502.50 461.80,501.30 461.80,503.70" fill="#333"/>
<line x1="467.50" y1="496.10" x2="467.50" y2="505.80" stroke="#3a3a3a" stroke-width="0.8"/>
<text x="0.00" y="0.00" font-size="10.1" text-anchor="middle" fill="#222" font-weight="normal" transform="translate(427.20 501.30) scale(0.96 1)">1.90</text>
<line x1="404.50" y1="509.00" x2="404.50" y2="530.80" stroke="#3a3a3a" stroke-width="0.8"/>
<polygon points="404.50,530.80 403.30,526.80 405.70,526.80" fill="#333"/>
<line x1="404.50" y1="541.30" x2="404.50" y2="551.00" stroke="#3a3a3a" stroke-width="0.8"/>
<polygon points="404.50,541.30 403.30,545.30 405.70,545.30" fill="#333"/>
<line x1="398.00" y1="530.50" x2="410.00" y2="530.50" stroke="#3a3a3a" stroke-width="0.6"/>
<text x="0.00" y="0.00" font-size="10.1" text-anchor="middle" fill="#222" font-weight="normal" transform="translate(403.50 516.70) rotate(-90) scale(0.96 1)">1.20</text>
<line x1="398.50" y1="541.30" x2="398.50" y2="557.00" stroke="#3a3a3a" stroke-width="0.8"/>
<line x1="388.50" y1="541.30" x2="388.50" y2="557.00" stroke="#3a3a3a" stroke-width="0.8"/>
<line x1="379.00" y1="556.50" x2="388.00" y2="556.50" stroke="#3a3a3a" stroke-width="0.8"/>
<polygon points="388.00,556.50 384.00,555.30 384.00,557.70" fill="#333"/>
<line x1="398.80" y1="556.50" x2="425.00" y2="556.50" stroke="#3a3a3a" stroke-width="0.8"/>
<polygon points="398.80,556.50 402.80,555.30 402.80,557.70" fill="#333"/>
<text x="0.00" y="0.00" font-size="10.1" text-anchor="middle" fill="#222" font-weight="normal" transform="translate(416.00 555.10) scale(0.96 1)">1.30</text>
<line x1="312.50" y1="535.00" x2="312.50" y2="553.00" stroke="#3a3a3a" stroke-width="0.8"/>
<line x1="352.50" y1="541.30" x2="352.50" y2="569.00" stroke="#3a3a3a" stroke-width="0.8"/>
<line x1="372.50" y1="541.30" x2="372.50" y2="553.00" stroke="#3a3a3a" stroke-width="0.8"/>
<line x1="393.50" y1="541.30" x2="393.50" y2="569.00" stroke="#3a3a3a" stroke-width="0.8"/>
<line x1="312.50" y1="551.50" x2="372.75" y2="551.50" stroke="#3a3a3a" stroke-width="0.8"/>
<polygon points="312.50,551.50 317.50,550.10 317.50,552.90" fill="#333"/>
<polygon points="352.90,551.50 347.90,550.10 347.90,552.90" fill="#333"/>
<polygon points="352.90,551.50 357.90,550.10 357.90,552.90" fill="#333"/>
<polygon points="372.75,551.50 367.75,550.10 367.75,552.90" fill="#333"/>
<text x="0.00" y="0.00" font-size="10.1" text-anchor="middle" fill="#222" font-weight="normal" transform="translate(332.70 549.80) scale(0.96 1)">5.00</text>
<text x="0.00" y="0.00" font-size="10.1" text-anchor="middle" fill="#222" font-weight="normal" transform="translate(363.20 549.80) scale(0.96 1)">2.54</text>
<line x1="352.90" y1="567.50" x2="393.40" y2="567.50" stroke="#333" stroke-width="0.8"/>
<polygon points="352.90,567.50 357.90,566.10 357.90,568.90" fill="#333"/>
<polygon points="393.40,567.50 388.40,566.10 388.40,568.90" fill="#333"/>
<text x="0.00" y="0.00" font-size="10.1" text-anchor="middle" fill="#222" font-weight="normal" transform="translate(373.00 566.10) scale(0.96 1)">5.08</text>
</svg>
</body></html>
